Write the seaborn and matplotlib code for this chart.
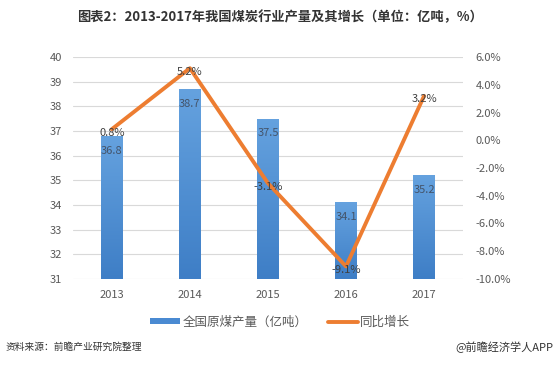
import numpy as np
import pandas as pd
import matplotlib
matplotlib.use('Agg')
import matplotlib.pyplot as plt
from matplotlib.lines import Line2D
from matplotlib.patches import Patch
import seaborn as sns

# 数据
anos = ['2013', '2014', '2015', '2016', '2017']
producao = [36.8, 38.7, 37.5, 34.1, 35.2]
crescimento = [0.8, 5.2, -3.1, -9.1, 3.2]
ticks_esq = list(range(31, 41))
ticks_dir = list(range(-10, 7, 2))

sns.set_theme(style='white')
plt.rcParams['font.family'] = ['Noto Sans CJK SC', 'DejaVu Sans']
plt.rcParams['axes.unicode_minus'] = False

cinza = '#595959'
azul = '#4a8ad2'
laranja = '#ed7d31'

fig = plt.figure(figsize=(5.6, 3.66), dpi=100)
ax = fig.add_axes([0.130, 0.238, 0.697, 0.606])

df = pd.DataFrame({'ano': anos, 'valor': producao})
sns.barplot(data=df, x='ano', y='valor', color=azul, width=0.28,
            saturation=1, ax=ax, zorder=2)

# gradiente nas barras
grad = np.linspace(0, 1, 256).reshape(-1, 1)
cmap = matplotlib.colors.LinearSegmentedColormap.from_list('g', ['#3e7ec6', '#65a2df'])
for p in ax.patches:
    x0, y0 = p.get_x(), p.get_y()
    w, h = p.get_width(), p.get_height()
    im = ax.imshow(grad, extent=[x0, x0 + w, 31, y0 + h], origin='lower',
                   cmap=cmap, aspect='auto', zorder=3)
    im.set_clip_path(p)
    p.set_alpha(0)

ax.set_xlim(-0.5, 4.5)
ax.set_ylim(31, 40)
ax.set_yticks(ticks_esq)
ax.yaxis.grid(True, color='#d9d9d9', linewidth=0.8, zorder=0)
ax.set_axisbelow(True)
for s in ax.spines.values():
    s.set_visible(False)
ax.set_xlabel('')
ax.set_ylabel('')
ax.tick_params(axis='x', length=0, labelsize=8, colors=cinza, pad=8)
ax.tick_params(axis='y', length=0, labelsize=8, colors=cinza, pad=8)

for i, v in enumerate(producao):
    ax.text(i, v - 0.6, f'{v:.1f}', ha='center', va='center', fontsize=8,
            color='#44546a', zorder=5)

ax2 = ax.twinx()
sns.lineplot(x=np.arange(len(anos)), y=crescimento, color=laranja,
             linewidth=2.8, ax=ax2, zorder=4)
ax2.set_ylim(-10, 6)
ax2.set_yticks(ticks_dir)
ax2.set_yticklabels([f'{t:.1f}%' for t in ticks_dir])
for s in ax2.spines.values():
    s.set_visible(False)
ax2.tick_params(axis='y', length=0, labelsize=8, colors=cinza, pad=9)
ax2.grid(False)

for i, v in enumerate(crescimento):
    ax2.text(i, v - 0.25, f'{v:.1f}%', ha='center', va='center', fontsize=8,
             color='#404040', zorder=6)

fig.text(0.5, 0.953, '图表2：2013-2017年我国煤炭行业产量及其增长（单位：亿吨，%）',
         ha='center', va='center', fontsize=9.5, fontweight='bold', color='#333333')

handles = [Patch(facecolor=azul, edgecolor='none'),
           Line2D([0], [0], color=laranja, linewidth=2.8)]
fig.legend(handles, ['全国原煤产量（亿吨）', '同比增长'], loc='center',
           bbox_to_anchor=(0.5, 0.12), ncol=2, frameon=False, fontsize=9,
           labelcolor=cinza, handlelength=2.4, handleheight=0.35,
           columnspacing=1.6, handletextpad=0.2)

fig.text(0.01, 0.052, '资料来源：前瞻产业研究院整理', ha='left', va='center',
         fontsize=7, style='italic', color='#333333')
fig.text(0.988, 0.052, '@前瞻经济学人APP', ha='right', va='center',
         fontsize=8, color='#333333')

fig.savefig('out.png', dpi=100)
